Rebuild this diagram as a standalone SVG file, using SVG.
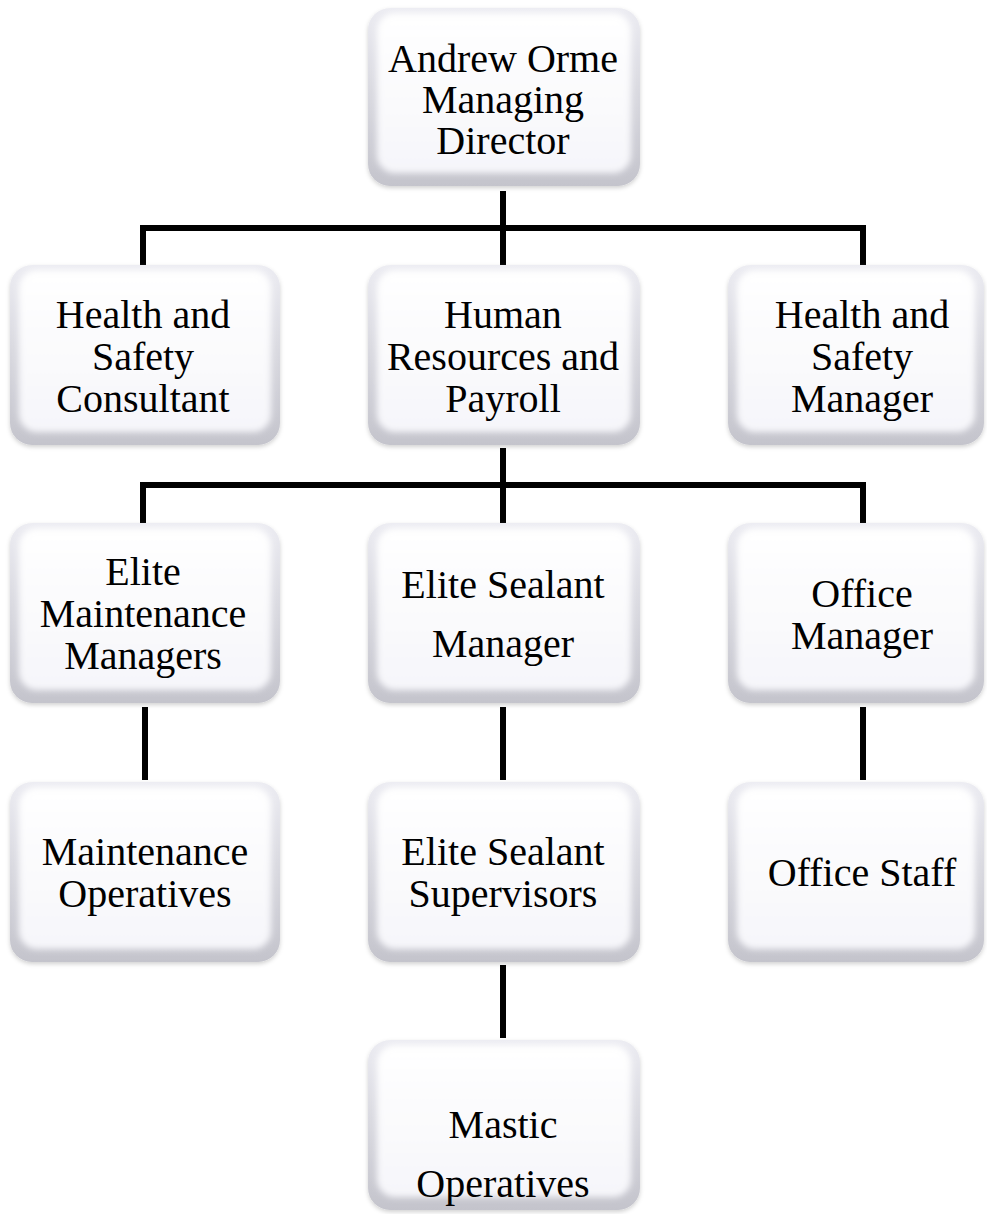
<svg xmlns="http://www.w3.org/2000/svg" width="987" height="1214" viewBox="0 0 987 1214">
<defs>
<linearGradient id="edge" x1="0" y1="0" x2="0" y2="1">
<stop offset="0" stop-color="#ececf2"/>
<stop offset="1" stop-color="#c4c4cc"/>
</linearGradient>
<linearGradient id="face" x1="0" y1="0" x2="0" y2="1">
<stop offset="0" stop-color="#ffffff"/>
<stop offset="1" stop-color="#f6f6fa"/>
</linearGradient>
<filter id="soft" x="-10%" y="-10%" width="120%" height="120%">
<feGaussianBlur stdDeviation="3"/>
</filter>
<filter id="shadow" x="-10%" y="-10%" width="120%" height="125%">
<feDropShadow dx="0" dy="2" stdDeviation="2" flood-color="#000" flood-opacity="0.18"/>
</filter>
</defs>
<style>
.outer{fill:url(#edge);filter:url(#shadow);}
.inner{fill:url(#face);filter:url(#soft);}
.t{font-family:"Liberation Serif","Times New Roman",serif;font-size:40px;fill:#000;text-anchor:middle;}
.c{stroke:#000;stroke-width:6;fill:none;stroke-linejoin:miter;}
</style>
<rect width="987" height="1214" fill="#ffffff"/>
<g id="connectors">
<path class="c" d="M503,191 V265 M143,265 V228 H863 V265"/>
<path class="c" d="M503,448 V523 M143,523 V485 H863 V523"/>
<path class="c" d="M145,707 V780 M503,707 V780 M863,707 V780"/>
<path class="c" d="M503,965 V1038"/>
</g>
<g id="n-director">
<rect class="outer" x="368" y="8" width="272" height="178" rx="22"/>
<rect class="inner" x="377" y="13" width="254" height="160" rx="18"/>
<text class="t" x="503" y="72">Andrew Orme</text>
<text class="t" x="503" y="113">Managing</text>
<text class="t" x="503" y="154">Director</text>
</g>
<g id="n-hs-consultant">
<rect class="outer" x="10" y="265" width="270" height="180" rx="22"/>
<rect class="inner" x="19" y="270" width="252" height="162" rx="18"/>
<text class="t" x="143" y="328">Health and</text>
<text class="t" x="143" y="370">Safety</text>
<text class="t" x="143" y="412">Consultant</text>
</g>
<g id="n-hr">
<rect class="outer" x="368" y="265" width="272" height="180" rx="22"/>
<rect class="inner" x="377" y="270" width="254" height="162" rx="18"/>
<text class="t" x="503" y="328">Human</text>
<text class="t" x="503" y="370">Resources and</text>
<text class="t" x="503" y="412">Payroll</text>
</g>
<g id="n-hs-manager">
<rect class="outer" x="728" y="265" width="256" height="180" rx="22"/>
<rect class="inner" x="737" y="270" width="238" height="162" rx="18"/>
<text class="t" x="862" y="328">Health and</text>
<text class="t" x="862" y="370">Safety</text>
<text class="t" x="862" y="412">Manager</text>
</g>
<g id="n-maint-managers">
<rect class="outer" x="10" y="523" width="270" height="180" rx="22"/>
<rect class="inner" x="19" y="528" width="252" height="162" rx="18"/>
<text class="t" x="143" y="585">Elite</text>
<text class="t" x="143" y="627">Maintenance</text>
<text class="t" x="143" y="669">Managers</text>
</g>
<g id="n-sealant-manager">
<rect class="outer" x="368" y="523" width="272" height="180" rx="22"/>
<rect class="inner" x="377" y="528" width="254" height="162" rx="18"/>
<text class="t" x="503" y="598">Elite Sealant</text>
<text class="t" x="503" y="657">Manager</text>
</g>
<g id="n-office-manager">
<rect class="outer" x="728" y="523" width="256" height="180" rx="22"/>
<rect class="inner" x="737" y="528" width="238" height="162" rx="18"/>
<text class="t" x="862" y="607">Office</text>
<text class="t" x="862" y="649">Manager</text>
</g>
<g id="n-maint-operatives">
<rect class="outer" x="10" y="782" width="270" height="180" rx="22"/>
<rect class="inner" x="19" y="787" width="252" height="162" rx="18"/>
<text class="t" x="145" y="865">Maintenance</text>
<text class="t" x="145" y="907">Operatives</text>
</g>
<g id="n-sealant-supervisors">
<rect class="outer" x="368" y="782" width="272" height="180" rx="22"/>
<rect class="inner" x="377" y="787" width="254" height="162" rx="18"/>
<text class="t" x="503" y="865">Elite Sealant</text>
<text class="t" x="503" y="907">Supervisors</text>
</g>
<g id="n-office-staff">
<rect class="outer" x="728" y="782" width="256" height="180" rx="22"/>
<rect class="inner" x="737" y="787" width="238" height="162" rx="18"/>
<text class="t" x="862" y="886">Office Staff</text>
</g>
<g id="n-mastic">
<rect class="outer" x="368" y="1040" width="272" height="170" rx="22"/>
<rect class="inner" x="377" y="1045" width="254" height="152" rx="18"/>
<text class="t" x="503" y="1138">Mastic</text>
<text class="t" x="503" y="1197">Operatives</text>
</g>
</svg>
